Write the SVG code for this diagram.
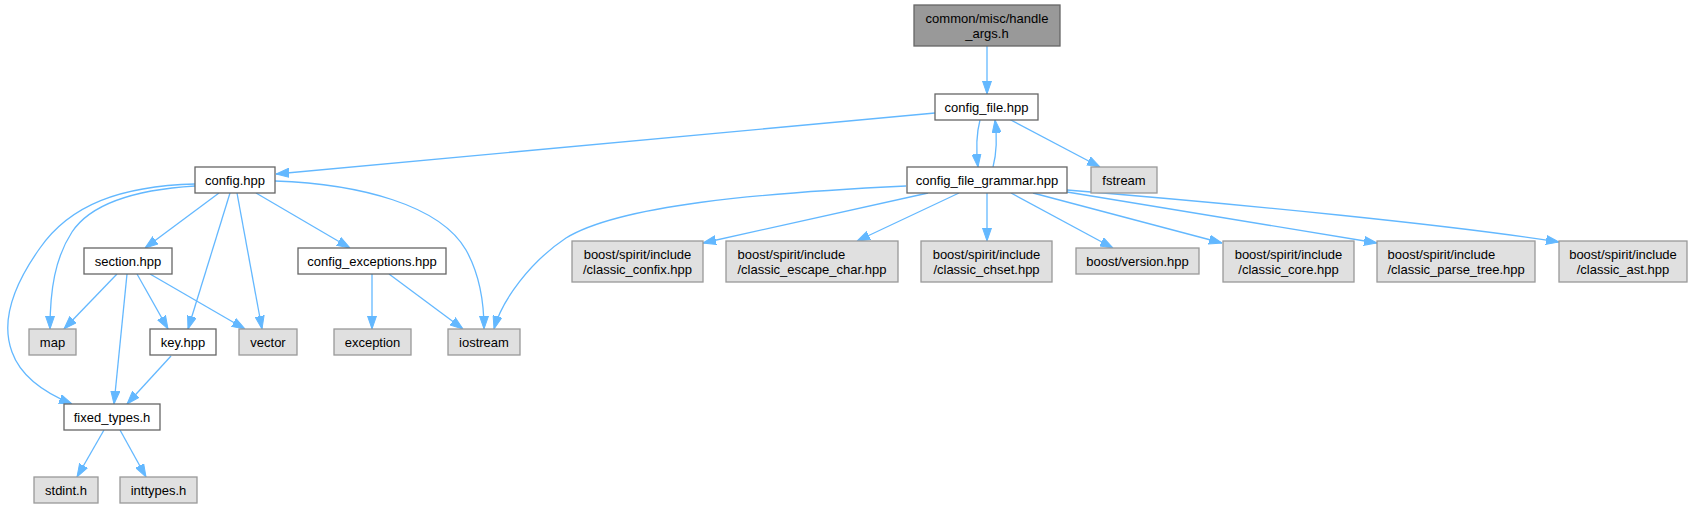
<svg xmlns="http://www.w3.org/2000/svg" width="1695" height="508" viewBox="0 0 1695 508">
<style>
.n rect{stroke-width:1.3}
.w rect{fill:#ffffff;stroke:#666666}
.g rect{fill:#e0e0e0;stroke:#999999}
.r rect{fill:#999999;stroke:#666666}
text{font-family:"Liberation Sans",Arial,sans-serif;font-size:13px;fill:#000000;text-anchor:middle}
text.s{text-anchor:start}
#edges path{fill:none;stroke:#63b8ff;stroke-width:1.3;marker-end:url(#ah)}
</style>
<defs>
<marker id="ah" markerUnits="userSpaceOnUse" viewBox="0 0 13 10" markerWidth="13" markerHeight="10" refX="13" refY="5" orient="auto">
<polygon points="0,0.5 13,5 0,9.5" fill="#63b8ff" stroke="#63b8ff" stroke-width="1"/>
</marker>
</defs>
<rect width="1695" height="508" fill="#ffffff"/>
<g id="edges">
<path d="M987,46 L987,94"/>
<path d="M935,113 L276,174"/>
<path d="M980,120 C976,135 976,150 978,167"/>
<path d="M993,167 C997,152 997,136 995,120"/>
<path d="M1009,119 L1100,167"/>
<path d="M906,186 C760,193 620,205 566,238 C530,262 502,300 494,329"/>
<path d="M928,193 L703,243"/>
<path d="M959,193 L857,241"/>
<path d="M987,193 L987,241"/>
<path d="M1011,193 L1113,248"/>
<path d="M1033,193 L1222,243"/>
<path d="M1067,192 L1377,243"/>
<path d="M1067,190 C1250,205 1450,225 1559,242"/>
<path d="M219,193 L145,248"/>
<path d="M230,193 L188,329"/>
<path d="M237,193 L262,329"/>
<path d="M256,193 L350,248"/>
<path d="M275,181 C360,184 440,205 466,250 C480,275 484,305 484,329"/>
<path d="M195,186 C130,190 90,205 72,232 C55,258 50,290 50,329"/>
<path d="M195,184 C120,186 70,205 40,248 C15,283 0,320 12,352 C22,380 50,395 72,404"/>
<path d="M117,274 L64,329"/>
<path d="M127,274 L114,404"/>
<path d="M137,274 L168,329"/>
<path d="M150,274 L245,329"/>
<path d="M171,356 L127,404"/>
<path d="M372,274 L372,329"/>
<path d="M389,274 L463,329"/>
<path d="M104,430 L77,477"/>
<path d="M120,430 L146,477"/>
</g>
<g id="handle_args" class="n r"><rect x="914" y="5" width="146" height="41"/><text x="987" y="22.5">common/misc/handle</text><text x="987" y="37.5">_args.h</text></g>
<g id="config_file" class="n w"><rect x="935" y="94" width="103" height="26"/><text x="986.5" y="111.5">config_file.hpp</text></g>
<g id="config_file_grammar" class="n w"><rect x="907" y="167" width="160" height="26"/><text x="987" y="184.5">config_file_grammar.hpp</text></g>
<g id="fstream" class="n g"><rect x="1091" y="167" width="66" height="26"/><text x="1124" y="184.5">fstream</text></g>
<g id="config" class="n w"><rect x="195" y="167" width="80" height="26"/><text x="235" y="184.5">config.hpp</text></g>
<g id="section" class="n w"><rect x="84" y="248" width="88" height="26"/><text x="128" y="265.5">section.hpp</text></g>
<g id="config_exceptions" class="n w"><rect x="298" y="248" width="148" height="26"/><text x="372" y="265.5">config_exceptions.hpp</text></g>
<g id="map" class="n g"><rect x="29" y="329" width="47" height="26"/><text x="52.5" y="346.5">map</text></g>
<g id="key" class="n w"><rect x="150" y="329" width="66" height="26"/><text x="183" y="346.5">key.hpp</text></g>
<g id="vector" class="n g"><rect x="239" y="329" width="58" height="26"/><text x="268" y="346.5">vector</text></g>
<g id="exception" class="n g"><rect x="334" y="329" width="77" height="26"/><text x="372.5" y="346.5">exception</text></g>
<g id="iostream" class="n g"><rect x="448" y="329" width="72" height="26"/><text x="484" y="346.5">iostream</text></g>
<g id="fixed_types" class="n w"><rect x="64" y="404" width="96" height="26"/><text x="112" y="421.5">fixed_types.h</text></g>
<g id="stdint" class="n g"><rect x="34" y="477" width="64" height="26"/><text x="66" y="494.5">stdint.h</text></g>
<g id="inttypes" class="n g"><rect x="120" y="477" width="77" height="26"/><text x="158.5" y="494.5">inttypes.h</text></g>
<g id="classic_confix" class="n g"><rect x="572" y="241" width="131" height="41"/><text x="637.5" y="258.5">boost/spirit/include</text><text x="637.5" y="273.5">/classic_confix.hpp</text></g>
<g id="classic_escape_char" class="n g"><rect x="726" y="241" width="172" height="41"/><text class="s" x="737.5" y="258.5">boost/spirit/include</text><text class="s" x="737.5" y="273.5">/classic_escape_char.hpp</text></g>
<g id="classic_chset" class="n g"><rect x="921" y="241" width="131" height="41"/><text x="986.5" y="258.5">boost/spirit/include</text><text x="986.5" y="273.5">/classic_chset.hpp</text></g>
<g id="version" class="n g"><rect x="1076" y="248" width="123" height="26"/><text x="1137.5" y="265.5">boost/version.hpp</text></g>
<g id="classic_core" class="n g"><rect x="1223" y="241" width="131" height="41"/><text x="1288.5" y="258.5">boost/spirit/include</text><text x="1288.5" y="273.5">/classic_core.hpp</text></g>
<g id="classic_parse_tree" class="n g"><rect x="1377" y="241" width="158" height="41"/><text class="s" x="1387.5" y="258.5">boost/spirit/include</text><text class="s" x="1387.5" y="273.5">/classic_parse_tree.hpp</text></g>
<g id="classic_ast" class="n g"><rect x="1559" y="241" width="128" height="41"/><text x="1623" y="258.5">boost/spirit/include</text><text x="1623" y="273.5">/classic_ast.hpp</text></g>
</svg>
